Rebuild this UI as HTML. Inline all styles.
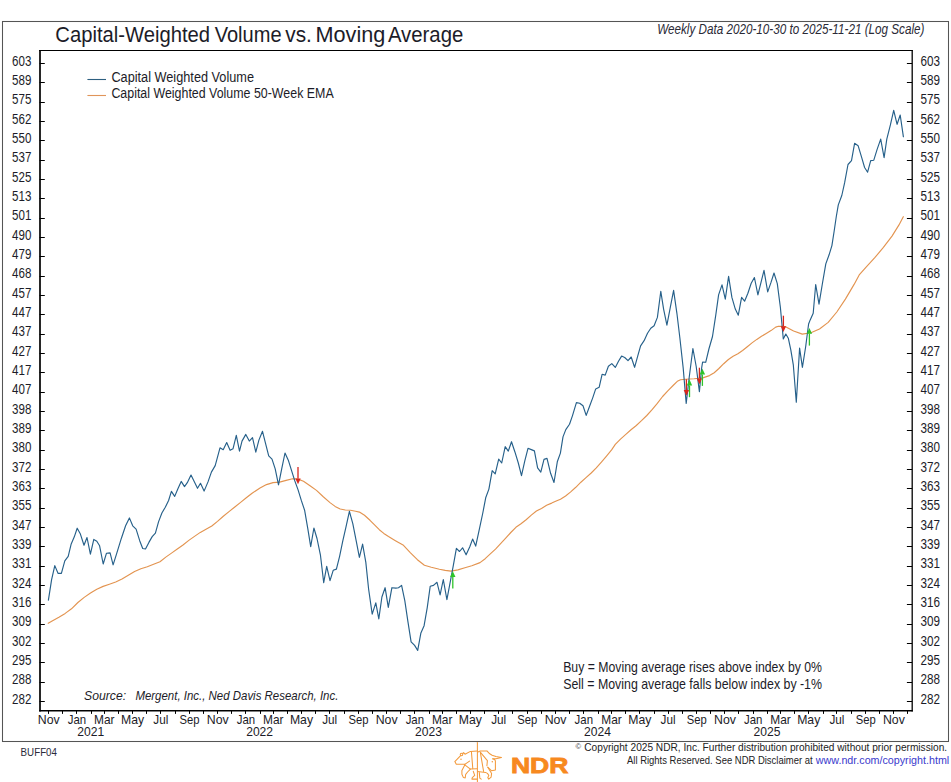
<!DOCTYPE html><html><head><meta charset="utf-8"><style>html,body{margin:0;padding:0;background:#fff;}svg{display:block;}text{font-family:"Liberation Sans",sans-serif;}</style></head><body>
<svg width="951" height="782" viewBox="0 0 951 782">
<rect x="0" y="0" width="951" height="782" fill="#fff"/>
<rect x="2.5" y="21.5" width="946" height="720" fill="none" stroke="#555" stroke-width="1.05"/>
<text x="55.3" y="41.6" font-size="21.3" fill="#1c1c28" textLength="154.8" lengthAdjust="spacingAndGlyphs">Capital-Weighted</text>
<text x="214.7" y="41.6" font-size="21.3" fill="#1c1c28" textLength="66.9" lengthAdjust="spacingAndGlyphs">Volume</text>
<text x="285.3" y="41.6" font-size="21.3" fill="#1c1c28" textLength="26.6" lengthAdjust="spacingAndGlyphs">vs.</text>
<text x="315.5" y="41.6" font-size="21.3" fill="#1c1c28" textLength="69.8" lengthAdjust="spacingAndGlyphs">Moving</text>
<text x="387.9" y="41.6" font-size="21.3" fill="#1c1c28" textLength="75.4" lengthAdjust="spacingAndGlyphs">Average</text>
<text x="657.2" y="34.3" font-size="14.5" font-style="italic" fill="#2a2a36" textLength="267.2" lengthAdjust="spacingAndGlyphs">Weekly Data 2020-10-30 to 2025-11-21 (Log Scale)</text>
<line x1="39.6" y1="63.5" x2="44.80" y2="63.5" stroke="#000" stroke-width="1"/>
<line x1="906.90" y1="63.5" x2="912.1" y2="63.5" stroke="#000" stroke-width="1"/>
<text x="31.4" y="65.50" font-size="14.0" fill="#1c1c28" text-anchor="end" textLength="19.3" lengthAdjust="spacingAndGlyphs">603</text>
<text x="920.4" y="65.50" font-size="14.0" fill="#1c1c28" textLength="19.5" lengthAdjust="spacingAndGlyphs">603</text>
<line x1="39.6" y1="82.5" x2="44.80" y2="82.5" stroke="#000" stroke-width="1"/>
<line x1="906.90" y1="82.5" x2="912.1" y2="82.5" stroke="#000" stroke-width="1"/>
<text x="31.4" y="84.84" font-size="14.0" fill="#1c1c28" text-anchor="end" textLength="19.3" lengthAdjust="spacingAndGlyphs">589</text>
<text x="920.4" y="84.84" font-size="14.0" fill="#1c1c28" textLength="19.5" lengthAdjust="spacingAndGlyphs">589</text>
<line x1="39.6" y1="102.5" x2="44.80" y2="102.5" stroke="#000" stroke-width="1"/>
<line x1="906.90" y1="102.5" x2="912.1" y2="102.5" stroke="#000" stroke-width="1"/>
<text x="31.4" y="104.17" font-size="14.0" fill="#1c1c28" text-anchor="end" textLength="19.3" lengthAdjust="spacingAndGlyphs">575</text>
<text x="920.4" y="104.17" font-size="14.0" fill="#1c1c28" textLength="19.5" lengthAdjust="spacingAndGlyphs">575</text>
<line x1="39.6" y1="121.5" x2="44.80" y2="121.5" stroke="#000" stroke-width="1"/>
<line x1="906.90" y1="121.5" x2="912.1" y2="121.5" stroke="#000" stroke-width="1"/>
<text x="31.4" y="123.51" font-size="14.0" fill="#1c1c28" text-anchor="end" textLength="19.3" lengthAdjust="spacingAndGlyphs">562</text>
<text x="920.4" y="123.51" font-size="14.0" fill="#1c1c28" textLength="19.5" lengthAdjust="spacingAndGlyphs">562</text>
<line x1="39.6" y1="140.5" x2="44.80" y2="140.5" stroke="#000" stroke-width="1"/>
<line x1="906.90" y1="140.5" x2="912.1" y2="140.5" stroke="#000" stroke-width="1"/>
<text x="31.4" y="142.85" font-size="14.0" fill="#1c1c28" text-anchor="end" textLength="19.3" lengthAdjust="spacingAndGlyphs">550</text>
<text x="920.4" y="142.85" font-size="14.0" fill="#1c1c28" textLength="19.5" lengthAdjust="spacingAndGlyphs">550</text>
<line x1="39.6" y1="160.5" x2="44.80" y2="160.5" stroke="#000" stroke-width="1"/>
<line x1="906.90" y1="160.5" x2="912.1" y2="160.5" stroke="#000" stroke-width="1"/>
<text x="31.4" y="162.18" font-size="14.0" fill="#1c1c28" text-anchor="end" textLength="19.3" lengthAdjust="spacingAndGlyphs">537</text>
<text x="920.4" y="162.18" font-size="14.0" fill="#1c1c28" textLength="19.5" lengthAdjust="spacingAndGlyphs">537</text>
<line x1="39.6" y1="179.5" x2="44.80" y2="179.5" stroke="#000" stroke-width="1"/>
<line x1="906.90" y1="179.5" x2="912.1" y2="179.5" stroke="#000" stroke-width="1"/>
<text x="31.4" y="181.52" font-size="14.0" fill="#1c1c28" text-anchor="end" textLength="19.3" lengthAdjust="spacingAndGlyphs">525</text>
<text x="920.4" y="181.52" font-size="14.0" fill="#1c1c28" textLength="19.5" lengthAdjust="spacingAndGlyphs">525</text>
<line x1="39.6" y1="198.5" x2="44.80" y2="198.5" stroke="#000" stroke-width="1"/>
<line x1="906.90" y1="198.5" x2="912.1" y2="198.5" stroke="#000" stroke-width="1"/>
<text x="31.4" y="200.85" font-size="14.0" fill="#1c1c28" text-anchor="end" textLength="19.3" lengthAdjust="spacingAndGlyphs">513</text>
<text x="920.4" y="200.85" font-size="14.0" fill="#1c1c28" textLength="19.5" lengthAdjust="spacingAndGlyphs">513</text>
<line x1="39.6" y1="218.5" x2="44.80" y2="218.5" stroke="#000" stroke-width="1"/>
<line x1="906.90" y1="218.5" x2="912.1" y2="218.5" stroke="#000" stroke-width="1"/>
<text x="31.4" y="220.19" font-size="14.0" fill="#1c1c28" text-anchor="end" textLength="19.3" lengthAdjust="spacingAndGlyphs">501</text>
<text x="920.4" y="220.19" font-size="14.0" fill="#1c1c28" textLength="19.5" lengthAdjust="spacingAndGlyphs">501</text>
<line x1="39.6" y1="237.5" x2="44.80" y2="237.5" stroke="#000" stroke-width="1"/>
<line x1="906.90" y1="237.5" x2="912.1" y2="237.5" stroke="#000" stroke-width="1"/>
<text x="31.4" y="239.53" font-size="14.0" fill="#1c1c28" text-anchor="end" textLength="19.3" lengthAdjust="spacingAndGlyphs">490</text>
<text x="920.4" y="239.53" font-size="14.0" fill="#1c1c28" textLength="19.5" lengthAdjust="spacingAndGlyphs">490</text>
<line x1="39.6" y1="256.5" x2="44.80" y2="256.5" stroke="#000" stroke-width="1"/>
<line x1="906.90" y1="256.5" x2="912.1" y2="256.5" stroke="#000" stroke-width="1"/>
<text x="31.4" y="258.86" font-size="14.0" fill="#1c1c28" text-anchor="end" textLength="19.3" lengthAdjust="spacingAndGlyphs">479</text>
<text x="920.4" y="258.86" font-size="14.0" fill="#1c1c28" textLength="19.5" lengthAdjust="spacingAndGlyphs">479</text>
<line x1="39.6" y1="276.5" x2="44.80" y2="276.5" stroke="#000" stroke-width="1"/>
<line x1="906.90" y1="276.5" x2="912.1" y2="276.5" stroke="#000" stroke-width="1"/>
<text x="31.4" y="278.20" font-size="14.0" fill="#1c1c28" text-anchor="end" textLength="19.3" lengthAdjust="spacingAndGlyphs">468</text>
<text x="920.4" y="278.20" font-size="14.0" fill="#1c1c28" textLength="19.5" lengthAdjust="spacingAndGlyphs">468</text>
<line x1="39.6" y1="295.5" x2="44.80" y2="295.5" stroke="#000" stroke-width="1"/>
<line x1="906.90" y1="295.5" x2="912.1" y2="295.5" stroke="#000" stroke-width="1"/>
<text x="31.4" y="297.54" font-size="14.0" fill="#1c1c28" text-anchor="end" textLength="19.3" lengthAdjust="spacingAndGlyphs">457</text>
<text x="920.4" y="297.54" font-size="14.0" fill="#1c1c28" textLength="19.5" lengthAdjust="spacingAndGlyphs">457</text>
<line x1="39.6" y1="314.5" x2="44.80" y2="314.5" stroke="#000" stroke-width="1"/>
<line x1="906.90" y1="314.5" x2="912.1" y2="314.5" stroke="#000" stroke-width="1"/>
<text x="31.4" y="316.87" font-size="14.0" fill="#1c1c28" text-anchor="end" textLength="19.3" lengthAdjust="spacingAndGlyphs">447</text>
<text x="920.4" y="316.87" font-size="14.0" fill="#1c1c28" textLength="19.5" lengthAdjust="spacingAndGlyphs">447</text>
<line x1="39.6" y1="334.5" x2="44.80" y2="334.5" stroke="#000" stroke-width="1"/>
<line x1="906.90" y1="334.5" x2="912.1" y2="334.5" stroke="#000" stroke-width="1"/>
<text x="31.4" y="336.21" font-size="14.0" fill="#1c1c28" text-anchor="end" textLength="19.3" lengthAdjust="spacingAndGlyphs">437</text>
<text x="920.4" y="336.21" font-size="14.0" fill="#1c1c28" textLength="19.5" lengthAdjust="spacingAndGlyphs">437</text>
<line x1="39.6" y1="353.5" x2="44.80" y2="353.5" stroke="#000" stroke-width="1"/>
<line x1="906.90" y1="353.5" x2="912.1" y2="353.5" stroke="#000" stroke-width="1"/>
<text x="31.4" y="355.55" font-size="14.0" fill="#1c1c28" text-anchor="end" textLength="19.3" lengthAdjust="spacingAndGlyphs">427</text>
<text x="920.4" y="355.55" font-size="14.0" fill="#1c1c28" textLength="19.5" lengthAdjust="spacingAndGlyphs">427</text>
<line x1="39.6" y1="372.5" x2="44.80" y2="372.5" stroke="#000" stroke-width="1"/>
<line x1="906.90" y1="372.5" x2="912.1" y2="372.5" stroke="#000" stroke-width="1"/>
<text x="31.4" y="374.88" font-size="14.0" fill="#1c1c28" text-anchor="end" textLength="19.3" lengthAdjust="spacingAndGlyphs">417</text>
<text x="920.4" y="374.88" font-size="14.0" fill="#1c1c28" textLength="19.5" lengthAdjust="spacingAndGlyphs">417</text>
<line x1="39.6" y1="392.5" x2="44.80" y2="392.5" stroke="#000" stroke-width="1"/>
<line x1="906.90" y1="392.5" x2="912.1" y2="392.5" stroke="#000" stroke-width="1"/>
<text x="31.4" y="394.22" font-size="14.0" fill="#1c1c28" text-anchor="end" textLength="19.3" lengthAdjust="spacingAndGlyphs">407</text>
<text x="920.4" y="394.22" font-size="14.0" fill="#1c1c28" textLength="19.5" lengthAdjust="spacingAndGlyphs">407</text>
<line x1="39.6" y1="411.5" x2="44.80" y2="411.5" stroke="#000" stroke-width="1"/>
<line x1="906.90" y1="411.5" x2="912.1" y2="411.5" stroke="#000" stroke-width="1"/>
<text x="31.4" y="413.55" font-size="14.0" fill="#1c1c28" text-anchor="end" textLength="19.3" lengthAdjust="spacingAndGlyphs">398</text>
<text x="920.4" y="413.55" font-size="14.0" fill="#1c1c28" textLength="19.5" lengthAdjust="spacingAndGlyphs">398</text>
<line x1="39.6" y1="430.5" x2="44.80" y2="430.5" stroke="#000" stroke-width="1"/>
<line x1="906.90" y1="430.5" x2="912.1" y2="430.5" stroke="#000" stroke-width="1"/>
<text x="31.4" y="432.89" font-size="14.0" fill="#1c1c28" text-anchor="end" textLength="19.3" lengthAdjust="spacingAndGlyphs">389</text>
<text x="920.4" y="432.89" font-size="14.0" fill="#1c1c28" textLength="19.5" lengthAdjust="spacingAndGlyphs">389</text>
<line x1="39.6" y1="450.5" x2="44.80" y2="450.5" stroke="#000" stroke-width="1"/>
<line x1="906.90" y1="450.5" x2="912.1" y2="450.5" stroke="#000" stroke-width="1"/>
<text x="31.4" y="452.23" font-size="14.0" fill="#1c1c28" text-anchor="end" textLength="19.3" lengthAdjust="spacingAndGlyphs">380</text>
<text x="920.4" y="452.23" font-size="14.0" fill="#1c1c28" textLength="19.5" lengthAdjust="spacingAndGlyphs">380</text>
<line x1="39.6" y1="469.5" x2="44.80" y2="469.5" stroke="#000" stroke-width="1"/>
<line x1="906.90" y1="469.5" x2="912.1" y2="469.5" stroke="#000" stroke-width="1"/>
<text x="31.4" y="471.56" font-size="14.0" fill="#1c1c28" text-anchor="end" textLength="19.3" lengthAdjust="spacingAndGlyphs">372</text>
<text x="920.4" y="471.56" font-size="14.0" fill="#1c1c28" textLength="19.5" lengthAdjust="spacingAndGlyphs">372</text>
<line x1="39.6" y1="488.5" x2="44.80" y2="488.5" stroke="#000" stroke-width="1"/>
<line x1="906.90" y1="488.5" x2="912.1" y2="488.5" stroke="#000" stroke-width="1"/>
<text x="31.4" y="490.90" font-size="14.0" fill="#1c1c28" text-anchor="end" textLength="19.3" lengthAdjust="spacingAndGlyphs">363</text>
<text x="920.4" y="490.90" font-size="14.0" fill="#1c1c28" textLength="19.5" lengthAdjust="spacingAndGlyphs">363</text>
<line x1="39.6" y1="508.5" x2="44.80" y2="508.5" stroke="#000" stroke-width="1"/>
<line x1="906.90" y1="508.5" x2="912.1" y2="508.5" stroke="#000" stroke-width="1"/>
<text x="31.4" y="510.24" font-size="14.0" fill="#1c1c28" text-anchor="end" textLength="19.3" lengthAdjust="spacingAndGlyphs">355</text>
<text x="920.4" y="510.24" font-size="14.0" fill="#1c1c28" textLength="19.5" lengthAdjust="spacingAndGlyphs">355</text>
<line x1="39.6" y1="527.5" x2="44.80" y2="527.5" stroke="#000" stroke-width="1"/>
<line x1="906.90" y1="527.5" x2="912.1" y2="527.5" stroke="#000" stroke-width="1"/>
<text x="31.4" y="529.57" font-size="14.0" fill="#1c1c28" text-anchor="end" textLength="19.3" lengthAdjust="spacingAndGlyphs">347</text>
<text x="920.4" y="529.57" font-size="14.0" fill="#1c1c28" textLength="19.5" lengthAdjust="spacingAndGlyphs">347</text>
<line x1="39.6" y1="546.5" x2="44.80" y2="546.5" stroke="#000" stroke-width="1"/>
<line x1="906.90" y1="546.5" x2="912.1" y2="546.5" stroke="#000" stroke-width="1"/>
<text x="31.4" y="548.91" font-size="14.0" fill="#1c1c28" text-anchor="end" textLength="19.3" lengthAdjust="spacingAndGlyphs">339</text>
<text x="920.4" y="548.91" font-size="14.0" fill="#1c1c28" textLength="19.5" lengthAdjust="spacingAndGlyphs">339</text>
<line x1="39.6" y1="566.5" x2="44.80" y2="566.5" stroke="#000" stroke-width="1"/>
<line x1="906.90" y1="566.5" x2="912.1" y2="566.5" stroke="#000" stroke-width="1"/>
<text x="31.4" y="568.25" font-size="14.0" fill="#1c1c28" text-anchor="end" textLength="19.3" lengthAdjust="spacingAndGlyphs">331</text>
<text x="920.4" y="568.25" font-size="14.0" fill="#1c1c28" textLength="19.5" lengthAdjust="spacingAndGlyphs">331</text>
<line x1="39.6" y1="585.5" x2="44.80" y2="585.5" stroke="#000" stroke-width="1"/>
<line x1="906.90" y1="585.5" x2="912.1" y2="585.5" stroke="#000" stroke-width="1"/>
<text x="31.4" y="587.58" font-size="14.0" fill="#1c1c28" text-anchor="end" textLength="19.3" lengthAdjust="spacingAndGlyphs">324</text>
<text x="920.4" y="587.58" font-size="14.0" fill="#1c1c28" textLength="19.5" lengthAdjust="spacingAndGlyphs">324</text>
<line x1="39.6" y1="604.5" x2="44.80" y2="604.5" stroke="#000" stroke-width="1"/>
<line x1="906.90" y1="604.5" x2="912.1" y2="604.5" stroke="#000" stroke-width="1"/>
<text x="31.4" y="606.92" font-size="14.0" fill="#1c1c28" text-anchor="end" textLength="19.3" lengthAdjust="spacingAndGlyphs">316</text>
<text x="920.4" y="606.92" font-size="14.0" fill="#1c1c28" textLength="19.5" lengthAdjust="spacingAndGlyphs">316</text>
<line x1="39.6" y1="624.5" x2="44.80" y2="624.5" stroke="#000" stroke-width="1"/>
<line x1="906.90" y1="624.5" x2="912.1" y2="624.5" stroke="#000" stroke-width="1"/>
<text x="31.4" y="626.25" font-size="14.0" fill="#1c1c28" text-anchor="end" textLength="19.3" lengthAdjust="spacingAndGlyphs">309</text>
<text x="920.4" y="626.25" font-size="14.0" fill="#1c1c28" textLength="19.5" lengthAdjust="spacingAndGlyphs">309</text>
<line x1="39.6" y1="643.5" x2="44.80" y2="643.5" stroke="#000" stroke-width="1"/>
<line x1="906.90" y1="643.5" x2="912.1" y2="643.5" stroke="#000" stroke-width="1"/>
<text x="31.4" y="645.59" font-size="14.0" fill="#1c1c28" text-anchor="end" textLength="19.3" lengthAdjust="spacingAndGlyphs">302</text>
<text x="920.4" y="645.59" font-size="14.0" fill="#1c1c28" textLength="19.5" lengthAdjust="spacingAndGlyphs">302</text>
<line x1="39.6" y1="662.5" x2="44.80" y2="662.5" stroke="#000" stroke-width="1"/>
<line x1="906.90" y1="662.5" x2="912.1" y2="662.5" stroke="#000" stroke-width="1"/>
<text x="31.4" y="664.93" font-size="14.0" fill="#1c1c28" text-anchor="end" textLength="19.3" lengthAdjust="spacingAndGlyphs">295</text>
<text x="920.4" y="664.93" font-size="14.0" fill="#1c1c28" textLength="19.5" lengthAdjust="spacingAndGlyphs">295</text>
<line x1="39.6" y1="682.5" x2="44.80" y2="682.5" stroke="#000" stroke-width="1"/>
<line x1="906.90" y1="682.5" x2="912.1" y2="682.5" stroke="#000" stroke-width="1"/>
<text x="31.4" y="684.26" font-size="14.0" fill="#1c1c28" text-anchor="end" textLength="19.3" lengthAdjust="spacingAndGlyphs">288</text>
<text x="920.4" y="684.26" font-size="14.0" fill="#1c1c28" textLength="19.5" lengthAdjust="spacingAndGlyphs">288</text>
<line x1="39.6" y1="701.5" x2="44.80" y2="701.5" stroke="#000" stroke-width="1"/>
<line x1="906.90" y1="701.5" x2="912.1" y2="701.5" stroke="#000" stroke-width="1"/>
<text x="31.4" y="703.60" font-size="14.0" fill="#1c1c28" text-anchor="end" textLength="19.3" lengthAdjust="spacingAndGlyphs">282</text>
<text x="920.4" y="703.60" font-size="14.0" fill="#1c1c28" textLength="19.5" lengthAdjust="spacingAndGlyphs">282</text>
<line x1="48.5" y1="710.8" x2="48.5" y2="713.90" stroke="#000" stroke-width="1"/>
<text x="37.82" y="723.8" font-size="13.1" fill="#1c1c28" textLength="21.9" lengthAdjust="spacingAndGlyphs">Nov</text>
<line x1="62.5" y1="710.8" x2="62.5" y2="713.90" stroke="#000" stroke-width="1"/>
<line x1="76.5" y1="710.8" x2="76.5" y2="713.90" stroke="#000" stroke-width="1"/>
<text x="67.80" y="723.8" font-size="13.1" fill="#1c1c28" textLength="18.4" lengthAdjust="spacingAndGlyphs">Jan</text>
<line x1="91.5" y1="710.8" x2="91.5" y2="713.90" stroke="#000" stroke-width="1"/>
<text x="77.25" y="735.7" font-size="12.8" fill="#1c1c28" textLength="26.9" lengthAdjust="spacingAndGlyphs">2021</text>
<line x1="104.5" y1="710.8" x2="104.5" y2="713.90" stroke="#000" stroke-width="1"/>
<text x="94.06" y="723.8" font-size="13.1" fill="#1c1c28" textLength="20.5" lengthAdjust="spacingAndGlyphs">Mar</text>
<line x1="118.5" y1="710.8" x2="118.5" y2="713.90" stroke="#000" stroke-width="1"/>
<line x1="132.5" y1="710.8" x2="132.5" y2="713.90" stroke="#000" stroke-width="1"/>
<text x="120.99" y="723.8" font-size="13.1" fill="#1c1c28" textLength="23.1" lengthAdjust="spacingAndGlyphs">May</text>
<line x1="146.5" y1="710.8" x2="146.5" y2="713.90" stroke="#000" stroke-width="1"/>
<line x1="160.5" y1="710.8" x2="160.5" y2="713.90" stroke="#000" stroke-width="1"/>
<text x="153.27" y="723.8" font-size="13.1" fill="#1c1c28" textLength="15.0" lengthAdjust="spacingAndGlyphs">Jul</text>
<line x1="175.5" y1="710.8" x2="175.5" y2="713.90" stroke="#000" stroke-width="1"/>
<line x1="189.5" y1="710.8" x2="189.5" y2="713.90" stroke="#000" stroke-width="1"/>
<text x="179.47" y="723.8" font-size="13.1" fill="#1c1c28" textLength="20.0" lengthAdjust="spacingAndGlyphs">Sep</text>
<line x1="203.5" y1="710.8" x2="203.5" y2="713.90" stroke="#000" stroke-width="1"/>
<line x1="217.5" y1="710.8" x2="217.5" y2="713.90" stroke="#000" stroke-width="1"/>
<text x="206.75" y="723.8" font-size="13.1" fill="#1c1c28" textLength="21.9" lengthAdjust="spacingAndGlyphs">Nov</text>
<line x1="231.5" y1="710.8" x2="231.5" y2="713.90" stroke="#000" stroke-width="1"/>
<line x1="245.5" y1="710.8" x2="245.5" y2="713.90" stroke="#000" stroke-width="1"/>
<text x="236.74" y="723.8" font-size="13.1" fill="#1c1c28" textLength="18.4" lengthAdjust="spacingAndGlyphs">Jan</text>
<line x1="260.5" y1="710.8" x2="260.5" y2="713.90" stroke="#000" stroke-width="1"/>
<text x="246.18" y="735.7" font-size="12.8" fill="#1c1c28" textLength="26.9" lengthAdjust="spacingAndGlyphs">2022</text>
<line x1="273.5" y1="710.8" x2="273.5" y2="713.90" stroke="#000" stroke-width="1"/>
<text x="262.99" y="723.8" font-size="13.1" fill="#1c1c28" textLength="20.5" lengthAdjust="spacingAndGlyphs">Mar</text>
<line x1="287.5" y1="710.8" x2="287.5" y2="713.90" stroke="#000" stroke-width="1"/>
<line x1="301.5" y1="710.8" x2="301.5" y2="713.90" stroke="#000" stroke-width="1"/>
<text x="289.93" y="723.8" font-size="13.1" fill="#1c1c28" textLength="23.1" lengthAdjust="spacingAndGlyphs">May</text>
<line x1="315.5" y1="710.8" x2="315.5" y2="713.90" stroke="#000" stroke-width="1"/>
<line x1="329.5" y1="710.8" x2="329.5" y2="713.90" stroke="#000" stroke-width="1"/>
<text x="322.21" y="723.8" font-size="13.1" fill="#1c1c28" textLength="15.0" lengthAdjust="spacingAndGlyphs">Jul</text>
<line x1="344.5" y1="710.8" x2="344.5" y2="713.90" stroke="#000" stroke-width="1"/>
<line x1="358.5" y1="710.8" x2="358.5" y2="713.90" stroke="#000" stroke-width="1"/>
<text x="348.41" y="723.8" font-size="13.1" fill="#1c1c28" textLength="20.0" lengthAdjust="spacingAndGlyphs">Sep</text>
<line x1="372.5" y1="710.8" x2="372.5" y2="713.90" stroke="#000" stroke-width="1"/>
<line x1="386.5" y1="710.8" x2="386.5" y2="713.90" stroke="#000" stroke-width="1"/>
<text x="375.69" y="723.8" font-size="13.1" fill="#1c1c28" textLength="21.9" lengthAdjust="spacingAndGlyphs">Nov</text>
<line x1="400.5" y1="710.8" x2="400.5" y2="713.90" stroke="#000" stroke-width="1"/>
<line x1="414.5" y1="710.8" x2="414.5" y2="713.90" stroke="#000" stroke-width="1"/>
<text x="405.67" y="723.8" font-size="13.1" fill="#1c1c28" textLength="18.4" lengthAdjust="spacingAndGlyphs">Jan</text>
<line x1="429.5" y1="710.8" x2="429.5" y2="713.90" stroke="#000" stroke-width="1"/>
<text x="415.12" y="735.7" font-size="12.8" fill="#1c1c28" textLength="26.9" lengthAdjust="spacingAndGlyphs">2023</text>
<line x1="442.5" y1="710.8" x2="442.5" y2="713.90" stroke="#000" stroke-width="1"/>
<text x="431.93" y="723.8" font-size="13.1" fill="#1c1c28" textLength="20.5" lengthAdjust="spacingAndGlyphs">Mar</text>
<line x1="456.5" y1="710.8" x2="456.5" y2="713.90" stroke="#000" stroke-width="1"/>
<line x1="470.5" y1="710.8" x2="470.5" y2="713.90" stroke="#000" stroke-width="1"/>
<text x="458.86" y="723.8" font-size="13.1" fill="#1c1c28" textLength="23.1" lengthAdjust="spacingAndGlyphs">May</text>
<line x1="484.5" y1="710.8" x2="484.5" y2="713.90" stroke="#000" stroke-width="1"/>
<line x1="498.5" y1="710.8" x2="498.5" y2="713.90" stroke="#000" stroke-width="1"/>
<text x="491.15" y="723.8" font-size="13.1" fill="#1c1c28" textLength="15.0" lengthAdjust="spacingAndGlyphs">Jul</text>
<line x1="512.5" y1="710.8" x2="512.5" y2="713.90" stroke="#000" stroke-width="1"/>
<line x1="527.5" y1="710.8" x2="527.5" y2="713.90" stroke="#000" stroke-width="1"/>
<text x="517.34" y="723.8" font-size="13.1" fill="#1c1c28" textLength="20.0" lengthAdjust="spacingAndGlyphs">Sep</text>
<line x1="541.5" y1="710.8" x2="541.5" y2="713.90" stroke="#000" stroke-width="1"/>
<line x1="555.5" y1="710.8" x2="555.5" y2="713.90" stroke="#000" stroke-width="1"/>
<text x="544.63" y="723.8" font-size="13.1" fill="#1c1c28" textLength="21.9" lengthAdjust="spacingAndGlyphs">Nov</text>
<line x1="569.5" y1="710.8" x2="569.5" y2="713.90" stroke="#000" stroke-width="1"/>
<line x1="583.5" y1="710.8" x2="583.5" y2="713.90" stroke="#000" stroke-width="1"/>
<text x="574.61" y="723.8" font-size="13.1" fill="#1c1c28" textLength="18.4" lengthAdjust="spacingAndGlyphs">Jan</text>
<line x1="598.5" y1="710.8" x2="598.5" y2="713.90" stroke="#000" stroke-width="1"/>
<text x="584.06" y="735.7" font-size="12.8" fill="#1c1c28" textLength="26.9" lengthAdjust="spacingAndGlyphs">2024</text>
<line x1="611.5" y1="710.8" x2="611.5" y2="713.90" stroke="#000" stroke-width="1"/>
<text x="601.33" y="723.8" font-size="13.1" fill="#1c1c28" textLength="20.5" lengthAdjust="spacingAndGlyphs">Mar</text>
<line x1="625.5" y1="710.8" x2="625.5" y2="713.90" stroke="#000" stroke-width="1"/>
<line x1="639.5" y1="710.8" x2="639.5" y2="713.90" stroke="#000" stroke-width="1"/>
<text x="628.26" y="723.8" font-size="13.1" fill="#1c1c28" textLength="23.1" lengthAdjust="spacingAndGlyphs">May</text>
<line x1="654.5" y1="710.8" x2="654.5" y2="713.90" stroke="#000" stroke-width="1"/>
<line x1="668.5" y1="710.8" x2="668.5" y2="713.90" stroke="#000" stroke-width="1"/>
<text x="660.55" y="723.8" font-size="13.1" fill="#1c1c28" textLength="15.0" lengthAdjust="spacingAndGlyphs">Jul</text>
<line x1="682.5" y1="710.8" x2="682.5" y2="713.90" stroke="#000" stroke-width="1"/>
<line x1="696.5" y1="710.8" x2="696.5" y2="713.90" stroke="#000" stroke-width="1"/>
<text x="686.74" y="723.8" font-size="13.1" fill="#1c1c28" textLength="20.0" lengthAdjust="spacingAndGlyphs">Sep</text>
<line x1="710.5" y1="710.8" x2="710.5" y2="713.90" stroke="#000" stroke-width="1"/>
<line x1="724.5" y1="710.8" x2="724.5" y2="713.90" stroke="#000" stroke-width="1"/>
<text x="714.02" y="723.8" font-size="13.1" fill="#1c1c28" textLength="21.9" lengthAdjust="spacingAndGlyphs">Nov</text>
<line x1="738.5" y1="710.8" x2="738.5" y2="713.90" stroke="#000" stroke-width="1"/>
<line x1="753.5" y1="710.8" x2="753.5" y2="713.90" stroke="#000" stroke-width="1"/>
<text x="744.01" y="723.8" font-size="13.1" fill="#1c1c28" textLength="18.4" lengthAdjust="spacingAndGlyphs">Jan</text>
<line x1="767.5" y1="710.8" x2="767.5" y2="713.90" stroke="#000" stroke-width="1"/>
<text x="753.46" y="735.7" font-size="12.8" fill="#1c1c28" textLength="26.9" lengthAdjust="spacingAndGlyphs">2025</text>
<line x1="780.5" y1="710.8" x2="780.5" y2="713.90" stroke="#000" stroke-width="1"/>
<text x="770.27" y="723.8" font-size="13.1" fill="#1c1c28" textLength="20.5" lengthAdjust="spacingAndGlyphs">Mar</text>
<line x1="794.5" y1="710.8" x2="794.5" y2="713.90" stroke="#000" stroke-width="1"/>
<line x1="808.5" y1="710.8" x2="808.5" y2="713.90" stroke="#000" stroke-width="1"/>
<text x="797.20" y="723.8" font-size="13.1" fill="#1c1c28" textLength="23.1" lengthAdjust="spacingAndGlyphs">May</text>
<line x1="823.5" y1="710.8" x2="823.5" y2="713.90" stroke="#000" stroke-width="1"/>
<line x1="836.5" y1="710.8" x2="836.5" y2="713.90" stroke="#000" stroke-width="1"/>
<text x="829.48" y="723.8" font-size="13.1" fill="#1c1c28" textLength="15.0" lengthAdjust="spacingAndGlyphs">Jul</text>
<line x1="851.5" y1="710.8" x2="851.5" y2="713.90" stroke="#000" stroke-width="1"/>
<line x1="865.5" y1="710.8" x2="865.5" y2="713.90" stroke="#000" stroke-width="1"/>
<text x="855.68" y="723.8" font-size="13.1" fill="#1c1c28" textLength="20.0" lengthAdjust="spacingAndGlyphs">Sep</text>
<line x1="879.5" y1="710.8" x2="879.5" y2="713.90" stroke="#000" stroke-width="1"/>
<line x1="893.5" y1="710.8" x2="893.5" y2="713.90" stroke="#000" stroke-width="1"/>
<text x="882.96" y="723.8" font-size="13.1" fill="#1c1c28" textLength="21.9" lengthAdjust="spacingAndGlyphs">Nov</text>
<line x1="907.5" y1="710.8" x2="907.5" y2="713.90" stroke="#000" stroke-width="1"/>
<line x1="39" y1="50.5" x2="912.8" y2="50.5" stroke="#000" stroke-width="1.2"/>
<line x1="40" y1="49.9" x2="40" y2="711.6" stroke="#000" stroke-width="1.7"/>
<line x1="912.2" y1="49.9" x2="912.2" y2="711.6" stroke="#000" stroke-width="1.3"/>
<line x1="39.2" y1="710.8" x2="912.8" y2="710.8" stroke="#000" stroke-width="1.5"/>
<line x1="87.4" y1="79.5" x2="106" y2="79.5" stroke="#2d5f80" stroke-width="1.1"/>
<line x1="87.4" y1="95.5" x2="106" y2="95.5" stroke="#e0955a" stroke-width="1.1"/>
<text x="111.4" y="82.2" font-size="14.0" fill="#1c1c28" textLength="142.6" lengthAdjust="spacingAndGlyphs">Capital Weighted Volume</text>
<text x="111.4" y="98.1" font-size="14.0" fill="#1c1c28" textLength="222.3" lengthAdjust="spacingAndGlyphs">Capital Weighted Volume 50-Week EMA</text>
<text x="84.1" y="699.9" font-size="13.6" font-style="italic" fill="#1c1c28" textLength="42" lengthAdjust="spacingAndGlyphs">Source:</text>
<text x="135.4" y="699.9" font-size="13.6" font-style="italic" fill="#1c1c28" textLength="203.0" lengthAdjust="spacingAndGlyphs">Mergent, Inc., Ned Davis Research, Inc.</text>
<text x="563.2" y="672.2" font-size="13.9" fill="#1c1c28" textLength="258.8" lengthAdjust="spacingAndGlyphs">Buy = Moving average rises above index by 0%</text>
<text x="563.2" y="688.7" font-size="13.9" fill="#1c1c28" textLength="258.8" lengthAdjust="spacingAndGlyphs">Sell = Moving average falls below index by -1%</text>
<polyline points="48.2,623.3 52.6,620.8 58.9,617.2 65.2,613.4 71.5,608.8 77.9,602.5 84.2,597.4 90.5,593.0 96.8,589.2 103.1,586.4 109.4,584.2 115.7,582.0 122.0,579.1 128.3,575.3 134.6,571.5 140.9,568.8 147.3,566.8 153.6,564.2 160.0,561.7 165.8,557.1 171.5,553.1 177.3,549.0 183.0,545.0 188.8,540.4 194.5,536.4 200.3,532.4 206.0,529.3 211.8,526.0 217.5,521.4 223.3,516.2 229.0,511.6 234.8,507.0 240.6,502.4 246.3,497.8 252.1,493.2 260.0,488.1 266.5,484.6 273.0,482.6 279.6,482.1 286.1,480.4 292.6,478.7 298.0,479.1 303.5,481.3 310.0,485.7 316.5,490.4 323.0,496.5 330.0,502.6 335.1,506.4 340.2,509.0 345.3,510.0 350.5,510.2 355.6,511.3 359.4,512.1 364.5,515.3 370.0,520.3 374.8,525.2 379.3,529.7 383.8,533.4 388.5,536.6 395.4,540.7 403.5,545.3 410.5,552.8 417.4,559.7 424.4,565.3 431.3,567.3 439.4,569.2 445.2,570.4 451.0,571.1 457.9,569.9 464.9,567.8 471.8,565.8 480.0,562.6 485.2,558.7 490.3,553.9 495.5,549.1 500.6,543.7 505.7,538.1 510.8,532.5 515.9,527.3 521.0,523.8 526.1,519.7 531.3,515.1 536.4,511.0 541.5,508.4 546.6,505.3 551.7,503.1 556.8,500.7 560.5,499.2 565.6,496.0 570.7,491.9 575.8,487.3 580.9,482.2 586.0,477.6 591.2,473.0 596.3,467.9 601.4,462.2 606.5,456.1 611.6,449.9 615.3,444.4 620.5,439.1 625.8,434.4 631.0,429.7 636.3,425.5 641.5,420.7 646.8,415.5 652.1,409.7 657.3,403.4 662.6,396.5 667.8,390.8 673.1,385.5 677.3,381.3 680.5,379.7 685.7,379.2 694.1,378.7 702.8,377.9 709.5,375.6 714.2,372.7 718.9,368.5 723.7,363.7 728.4,359.5 733.1,356.2 737.9,353.8 742.6,350.5 747.3,346.7 752.0,342.9 756.8,339.4 761.5,336.3 766.2,333.5 771.0,330.6 775.7,327.1 778.5,326.2 782.3,326.4 786.0,326.9 793.6,331.0 802.3,334.1 810.9,332.8 819.5,329.0 828.2,322.4 836.8,312.0 845.4,299.1 854.1,284.4 859.2,274.9 866.1,267.2 874.8,257.7 883.4,247.3 892.0,236.1 899.0,224.9 903.3,216.7" fill="none" stroke="#e39450" stroke-width="1.15" stroke-linejoin="round" stroke-linecap="round"/>
<polyline points="48.4,600.2 51.6,579.7 54.8,565.6 58.0,573.3 61.4,573.3 64.8,560.9 68.2,556.3 71.2,543.9 74.2,537.1 77.2,528.2 80.4,534.1 84.0,545.2 87.0,537.5 90.4,554.1 93.8,539.4 96.8,541.3 99.6,545.8 103.2,564.0 106.5,553.2 110.1,552.9 113.1,564.8 116.8,553.2 121.4,538.2 125.6,525.8 129.4,517.9 132.7,525.8 136.1,529.1 139.7,540.7 142.7,548.5 145.5,549.0 148.9,542.4 152.2,536.6 155.4,533.1 158.6,521.6 161.9,513.0 165.3,507.2 168.6,500.5 171.4,491.4 174.7,496.4 177.8,489.0 181.2,481.4 184.5,486.6 187.3,482.7 191.0,475.1 194.2,481.6 197.5,488.3 200.5,483.3 204.1,491.1 208.0,481.9 211.4,472.1 215.2,465.6 220.0,447.8 223.2,449.7 226.7,442.6 230.1,450.3 233.0,448.8 236.3,435.3 239.5,451.1 242.0,441.1 245.8,434.4 249.3,441.1 252.5,437.6 255.8,452.2 258.9,440.1 262.5,431.3 265.4,442.8 268.7,455.9 272.0,459.1 275.2,468.9 278.5,484.8 281.7,468.9 285.0,453.0 288.3,460.2 291.5,470.4 294.8,480.9 298.0,489.6 301.3,500.4 304.6,510.2 307.8,528.7 310.7,546.7 313.9,528.0 317.0,538.5 320.4,554.8 323.7,582.6 326.7,566.3 330.0,580.6 333.2,570.3 336.4,569.1 339.6,556.3 342.8,540.9 346.0,526.9 349.4,511.3 352.8,523.7 356.2,540.9 359.4,557.3 362.6,544.1 365.8,562.1 368.6,589.0 372.2,614.1 375.8,602.8 378.8,618.9 381.9,597.0 385.1,587.7 388.3,607.4 391.9,587.7 395.8,588.1 398.5,587.7 401.6,585.4 404.8,600.6 408.0,622.1 411.1,641.8 414.6,645.4 417.7,650.4 420.9,632.9 424.1,625.7 427.2,607.8 430.2,586.3 433.5,585.4 437.0,582.3 440.1,594.9 443.3,579.5 446.9,599.7 449.6,585.4 453.2,566.2 456.4,548.3 459.5,551.5 462.6,547.8 466.1,554.8 469.8,546.7 472.6,539.1 475.7,546.1 479.1,530.4 482.8,513.0 485.7,497.8 488.9,489.1 492.2,470.7 495.2,473.9 498.7,459.1 501.7,463.0 505.2,446.7 508.3,451.1 511.5,441.7 515.0,452.2 518.3,463.0 521.5,475.7 524.8,460.9 528.0,448.3 531.3,449.6 534.4,450.9 537.6,467.9 540.8,472.1 544.0,459.4 547.0,458.4 550.6,473.3 554.0,482.5 557.3,461.8 560.4,453.1 563.0,436.9 565.8,429.6 569.5,424.2 572.5,415.6 576.4,402.6 579.7,403.2 583.0,405.8 586.2,415.4 589.4,406.8 592.8,397.6 595.7,388.9 599.2,387.2 602.1,374.3 605.2,375.1 608.4,366.2 611.8,363.6 615.3,367.4 618.5,361.3 621.6,356.1 624.7,357.5 628.0,360.7 631.2,357.0 634.6,367.3 637.7,356.1 640.6,345.8 644.1,340.7 647.5,333.2 650.8,328.2 654.1,325.7 657.4,317.4 660.8,291.3 663.6,309.1 666.9,325.2 670.3,307.4 673.6,290.3 676.9,313.3 679.9,338.2 683.2,368.1 686.2,403.5 689.1,378.2 692.9,348.5 696.2,366.5 699.4,391.6 701.7,367.7 702.6,362.0 705.7,362.3 708.9,349.0 712.5,336.5 715.8,314.9 718.6,294.9 722.0,284.9 725.3,299.1 728.6,276.3 731.9,297.4 735.3,309.1 738.3,315.2 741.6,297.4 744.6,301.2 747.9,293.3 751.2,283.3 754.4,277.5 757.9,294.9 761.2,281.6 764.0,270.3 767.7,291.9 771.0,282.4 774.0,273.0 777.3,283.6 780.4,307.5 783.3,339.0 785.8,334.0 788.3,338.2 790.8,349.8 793.3,364.8 796.3,402.2 799.6,348.1 802.4,367.3 805.7,346.5 808.6,324.0 810.2,319.9 813.2,313.2 815.7,284.5 819.0,304.1 822.5,283.0 825.8,263.9 829.1,254.8 831.9,245.6 834.1,231.5 836.3,216.5 838.3,204.9 841.8,195.5 844.6,182.9 848.0,164.5 851.5,160.6 854.6,143.3 858.1,145.7 861.5,156.8 864.6,167.5 867.6,172.2 870.7,160.6 873.8,160.2 877.2,149.1 880.7,139.1 884.1,157.6 886.8,139.1 890.4,124.9 893.7,110.4 897.1,124.3 900.2,115.0 903.4,136.8" fill="none" stroke="#26608a" stroke-width="1.15" stroke-linejoin="round" stroke-linecap="round"/>
<line x1="298" y1="466.9" x2="298" y2="478.4" stroke="#d9261c" stroke-width="1.3"/><polygon points="295.3,478.4 300.7,478.4 298,484.2" fill="#d9261c"/>
<line x1="452.8" y1="588.4" x2="452.8" y2="577.0" stroke="#2ec42a" stroke-width="1.3"/><polygon points="450.1,577.0 455.5,577.0 452.8,571.2" fill="#2ec42a"/>
<line x1="686.4" y1="379.3" x2="686.4" y2="390.0" stroke="#d9261c" stroke-width="1.3"/><polygon points="683.7,390.0 689.1,390.0 686.4,395.8" fill="#d9261c"/>
<line x1="689.5" y1="397.2" x2="689.5" y2="385.4" stroke="#2ec42a" stroke-width="1.3"/><polygon points="686.8,385.4 692.2,385.4 689.5,379.6" fill="#2ec42a"/>
<line x1="699.4" y1="367.7" x2="699.4" y2="378.4" stroke="#d9261c" stroke-width="1.3"/><polygon points="696.7,378.4 702.1,378.4 699.4,384.2" fill="#d9261c"/>
<line x1="702.4" y1="385.9" x2="702.4" y2="374.5" stroke="#2ec42a" stroke-width="1.3"/><polygon points="699.7,374.5 705.1,374.5 702.4,368.7" fill="#2ec42a"/>
<line x1="783.4" y1="315.7" x2="783.4" y2="326.2" stroke="#d9261c" stroke-width="1.3"/><polygon points="780.7,326.2 786.1,326.2 783.4,332.0" fill="#d9261c"/>
<line x1="809.4" y1="345.6" x2="809.4" y2="333.7" stroke="#2ec42a" stroke-width="1.3"/><polygon points="806.7,333.7 812.1,333.7 809.4,327.9" fill="#2ec42a"/>
<text x="20.6" y="755.6" font-size="10.4" fill="#2a2a3a" textLength="36.4" lengthAdjust="spacingAndGlyphs">BUFF04</text>
<text x="575.5" y="748.6" font-size="7.6" fill="#333">©</text>
<text x="584.3" y="751" font-size="10.6" fill="#222" textLength="362.8" lengthAdjust="spacingAndGlyphs">Copyright 2025 NDR, Inc. Further distribution prohibited without prior permission.</text>
<text x="627" y="764" font-size="10.6" fill="#222" textLength="185.6" lengthAdjust="spacingAndGlyphs">All Rights Reserved. See NDR Disclaimer at</text>
<text x="815.8" y="764" font-size="10.6" fill="#3a3acc" textLength="133.4" lengthAdjust="spacingAndGlyphs">www.ndr.com/copyright.html</text>
<text x="510.9" y="772.7" font-size="21.6" font-weight="bold" fill="#f7891f" stroke="#f7891f" stroke-width="0.8" textLength="57.6" lengthAdjust="spacingAndGlyphs">NDR</text>
<g fill="none" stroke="#f39a3c" stroke-width="1.05" stroke-linejoin="round" stroke-linecap="round">
<path d="M477.4,742.6 L477.4,782"/>
<path d="M477.2,751.1 L470.4,751.4 L465,754.2 L463.6,752.6 L462.6,753.4"/>
<circle cx="461.5" cy="754.5" r="1.25"/>
<path d="M460.6,755.6 L454.8,761.6 L456.3,764.2 L464.8,764.2"/>
<path d="M464.8,764.4 L469.5,761.1"/>
<path d="M464.8,764.9 L461.9,770.5 L461.9,774.3 L463.4,777.6 L465.2,777.9 L465.7,774.3 L467.6,772 L470.4,769.1"/>
<path d="M464.8,764.9 L470.4,769.1 L477,768.8"/>
<path d="M473.3,771.3 L474.7,775.3 L472.3,777.6 L471.9,779.1 L477.1,779.1"/>
<path d="M471.4,751.6 L472.8,768.7"/>
<path d="M477.9,752.1 L480.3,751.1 L486.9,750.9 L489.7,753.8 L492.1,755.2 L495.9,756.4 L501.5,757.5 L495.9,758.7 L492.6,758.7"/>
<path d="M492.9,758.9 Q495.4,759.1 495.4,761.2 L495.4,770.1 L491.6,770.8 L487.8,767.2"/>
<path d="M480.3,752.1 L483.6,771.5"/>
<path d="M480.7,752.6 L487.4,760.6 L486.9,765.8"/>
<path d="M487.8,767.2 L491.6,773.4 L491.1,777.2 L488.8,779.1 L487.8,777.6 L488.8,775.3 L487.4,773.4 L485.5,772.4 L477.6,771.5"/>
<path d="M479.3,772.4 L479.8,778.1 L481.2,779.1"/>
</g>
<circle cx="461" cy="759.2" r="0.75" fill="#f39a3c"/>
<circle cx="492.3" cy="761.8" r="0.75" fill="#f39a3c"/>

</svg></body></html>
